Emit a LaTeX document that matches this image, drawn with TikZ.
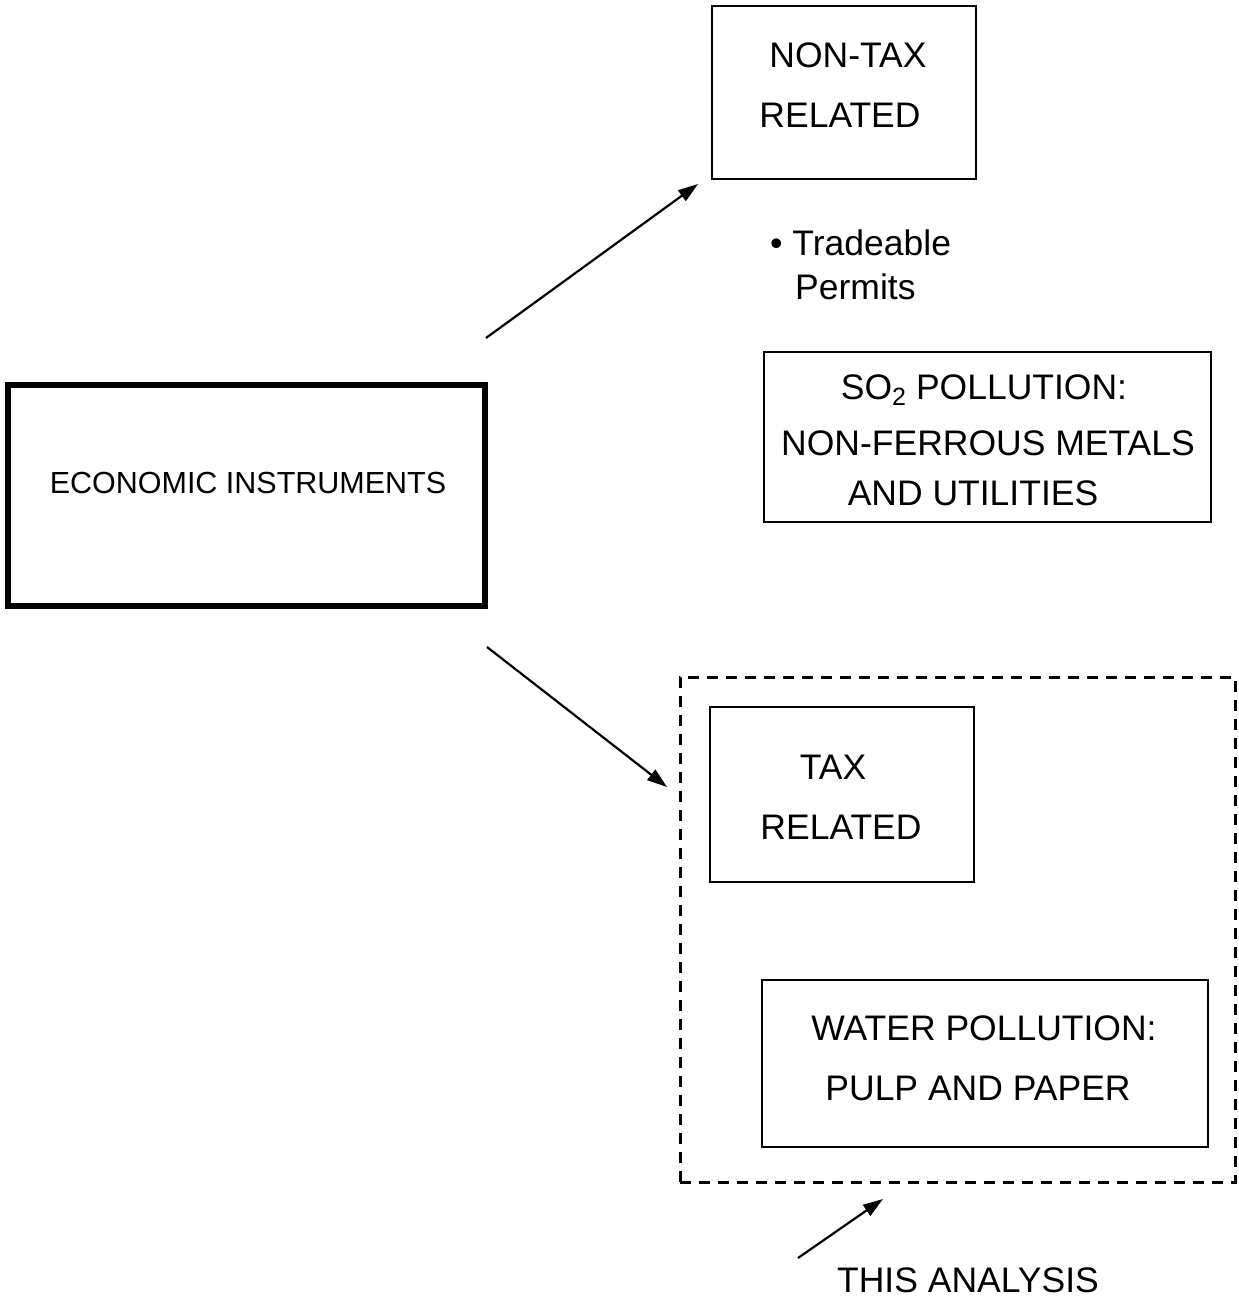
\documentclass[tikz,border=0pt]{standalone}
\usepackage{fontspec}
\setmainfont{Liberation Sans}
\usetikzlibrary{arrows.meta}
\begin{document}
\begin{tikzpicture}[x=1pt,y=-1pt,
  box/.style={draw, line width=2.5pt, rectangle, inner sep=0pt},
  lbl/.style={inner sep=0pt, font=\fontsize{35.5}{40}\selectfont},
  arr/.style={line width=2.2pt, -{Triangle[length=20pt,width=13pt]}}]
\useasboundingbox (0,0) rectangle (1239,1299);
% main box
\node[draw, line width=6pt, minimum width=477pt, minimum height=221pt, inner sep=0pt] (econ) at (246.5,495.5) {};
\node[lbl, font=\fontsize{30.5}{36}\selectfont] (econt) at (248,483) {ECONOMIC INSTRUMENTS};
% non-tax
\node[box, minimum width=264pt, minimum height=173pt] (nontax) at (844,92.5) {};
\node[lbl] (nt1) at (848,55) {NON-TAX};
\node[lbl] (nt2) at (840,115) {RELATED};
% tradeable
\node[lbl, anchor=west] (trad) at (770,243) {\textbullet\ Tradeable};
\node[lbl, anchor=west] (perm) at (795,287) {Permits};
% SO2 box
\node[box, minimum width=447pt, minimum height=170pt] (so2) at (987.5,437) {};
\node[lbl] (s1) at (984,390) {SO\raisebox{-0.3ex}{\fontsize{25}{25}\selectfont 2} POLLUTION:};
\node[lbl] (s2) at (988,443) {NON-FERROUS METALS};
\node[lbl] (s3) at (973,493) {AND UTILITIES};
% dashed box
\node[draw, line width=3pt, dash pattern=on 11pt off 8pt, minimum width=555pt, minimum height=505pt, inner sep=0pt] (dash) at (957.5,929.5) {};
% tax box
\node[box, minimum width=264pt, minimum height=175pt] (tax) at (842,794.5) {};
\node[lbl] (t1) at (833,767) {TAX};
\node[lbl] (t2) at (841,827) {RELATED};
% water box
\node[box, minimum width=446pt, minimum height=167pt] (water) at (985,1063.5) {};
\node[lbl] (w1) at (984,1028) {WATER POLLUTION:};
\node[lbl] (w2) at (978,1088) {PULP AND PAPER};
% this analysis
\node[lbl] (this) at (968,1280) {THIS ANALYSIS};
% arrows
\coordinate (a1s) at (486,338);
\coordinate (a1e) at (698,184);
\coordinate (a2s) at (487,647);
\coordinate (a2e) at (667,787);
\coordinate (a3s) at (798,1258);
\coordinate (a3e) at (883,1199);
\draw[arr] (a1s) -- (a1e);
\draw[arr] (a2s) -- (a2e);
\draw[arr] (a3s) -- (a3e);
\end{tikzpicture}
\end{document}
